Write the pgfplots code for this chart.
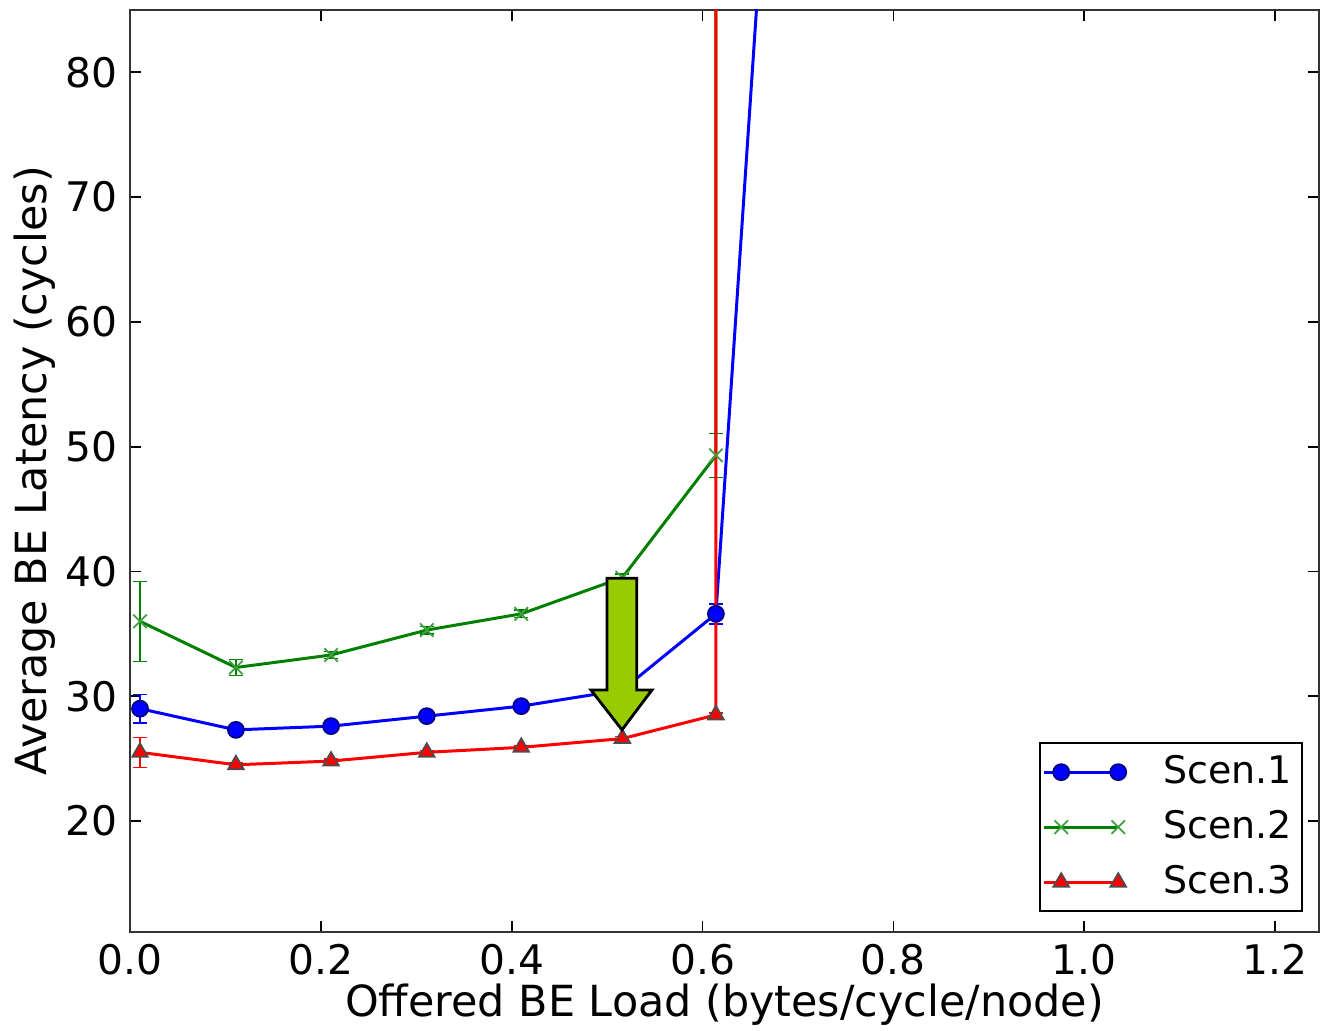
\documentclass[border=0pt]{standalone}
\usepackage{pgfplots}
\pgfplotsset{compat=1.18}
\usepackage{fontspec}
\setmainfont{DejaVu Sans}
\definecolor{arrowgreen}{RGB}{153,204,0}
\definecolor{mplgreen}{RGB}{0,128,0}
\begin{document}
\begin{tikzpicture}
\path[use as bounding box] (-13mm,-9.9mm) rectangle (119.1mm,93.2mm);
\begin{axis}[
  at={(0,0)}, anchor=south west,
  scale only axis,
  width=118.9mm, height=92.2mm,
  xmin=0, xmax=1.246, ymin=11.1, ymax=85,
  xtick={0,0.2,0.4,0.6,0.8,1.0,1.2},
  ytick={20,30,40,50,60,70,80},
  xticklabel style={/pgf/number format/.cd,fixed,fixed zerofill,precision=1},
  /pgf/number format/assume math mode=true,
  tick align=inside, major tick length=1.1mm,
  tick style={black, line width=0.5pt},
  axis line style={black!80, line width=0.8pt},
  tick label style={font=\fontsize{11.6}{14}\selectfont},
  label style={font=\fontsize{12.2}{14}\selectfont},
  xlabel={Offered BE Load (bytes/cycle/node)},
  ylabel={Average BE Latency (cycles)},
  xlabel style={at={(axis description cs:0.5,-0.0792)}, anchor=center},
  ylabel style={at={(axis description cs:-0.0799,0.5)}, anchor=center},
  clip=true,
  legend style={at={(axis description cs:0.9865,0.0217)}, anchor=south east,
    font=\fontsize{10.8}{13}\selectfont, draw=black, line width=0.6pt,
    row sep=0.75mm, inner xsep=0.3mm, inner ysep=0.5mm, cells={anchor=west},
    /tikz/every odd column/.append style={column sep=3.0mm}},
  legend image code/.code={
    \path (-1.7mm,0mm) -- (5.7mm,0mm);
    \draw[mark repeat=2,mark phase=1,#1] plot coordinates {(0mm,0mm) (2.85mm,0mm) (5.7mm,0mm)};
  },
  error bars/y dir=both, error bars/y explicit,
  error bars/error mark options={rotate=90, mark size=0.7mm},
]
\addplot[blue, line width=0.85pt, mark=*, mark size=0.8mm,
  mark options={fill=blue, draw=blue!50!black, line width=0.5pt},
  error bars/error bar style={blue, line width=0.5pt}]
coordinates {
(0.0105,29.0) +- (0,1.15)
(0.111,27.3) +- (0,0.2)
(0.2107,27.6) +- (0,0.2)
(0.311,28.4) +- (0,0.2)
(0.41,29.2) +- (0,0.2)
(0.516,30.5) +- (0,0.2)
(0.614,36.6) +- (0,0.8)
(0.71,146) +- (0,0)
};
\addlegendentry{Scen.1}
\addplot[mplgreen, line width=0.85pt, mark=x, mark size=0.95mm,
  mark options={draw=mplgreen!75, line width=0.5pt},
  error bars/error bar style={mplgreen, line width=0.5pt}]
coordinates {
(0.0105,36.0) +- (0,3.2)
(0.111,32.3) +- (0,0.65)
(0.2107,33.3) +- (0,0.3)
(0.311,35.3) +- (0,0.3)
(0.41,36.6) +- (0,0.3)
(0.516,39.5) +- (0,0.3)
(0.614,49.3) +- (0,1.75)
(0.615,1000) +- (0,0)
};
\addlegendentry{Scen.2}
\addplot[red, line width=0.85pt, mark=triangle*, mark size=0.9mm,
  mark options={fill=red, draw=black!70, line width=0.5pt},
  error bars/error bar style={red, line width=0.5pt}]
coordinates {
(0.0105,25.5) +- (0,1.2)
(0.111,24.5) +- (0,0.15)
(0.2107,24.8) +- (0,0.15)
(0.311,25.5) +- (0,0.15)
(0.41,25.9) +- (0,0.15)
(0.516,26.6) +- (0,0.15)
(0.614,28.5) +- (0,0.15)
(0.615,1000) +- (0,0)
};
\addlegendentry{Scen.3}
\coordinate (a1) at (axis cs:0.4999,39.46);
\coordinate (a2) at (axis cs:0.531,39.46);
\coordinate (a3) at (axis cs:0.531,30.5);
\coordinate (a4) at (axis cs:0.547,30.5);
\coordinate (a5) at (axis cs:0.5156,27.3);
\coordinate (a6) at (axis cs:0.483,30.5);
\coordinate (a7) at (axis cs:0.4999,30.5);
\end{axis}
\draw[fill=arrowgreen, draw=black, line width=0.8pt, line join=miter]
  (a1) -- (a2) -- (a3) -- (a4) -- (a5) -- (a6) -- (a7) -- cycle;
\end{tikzpicture}
\end{document}
